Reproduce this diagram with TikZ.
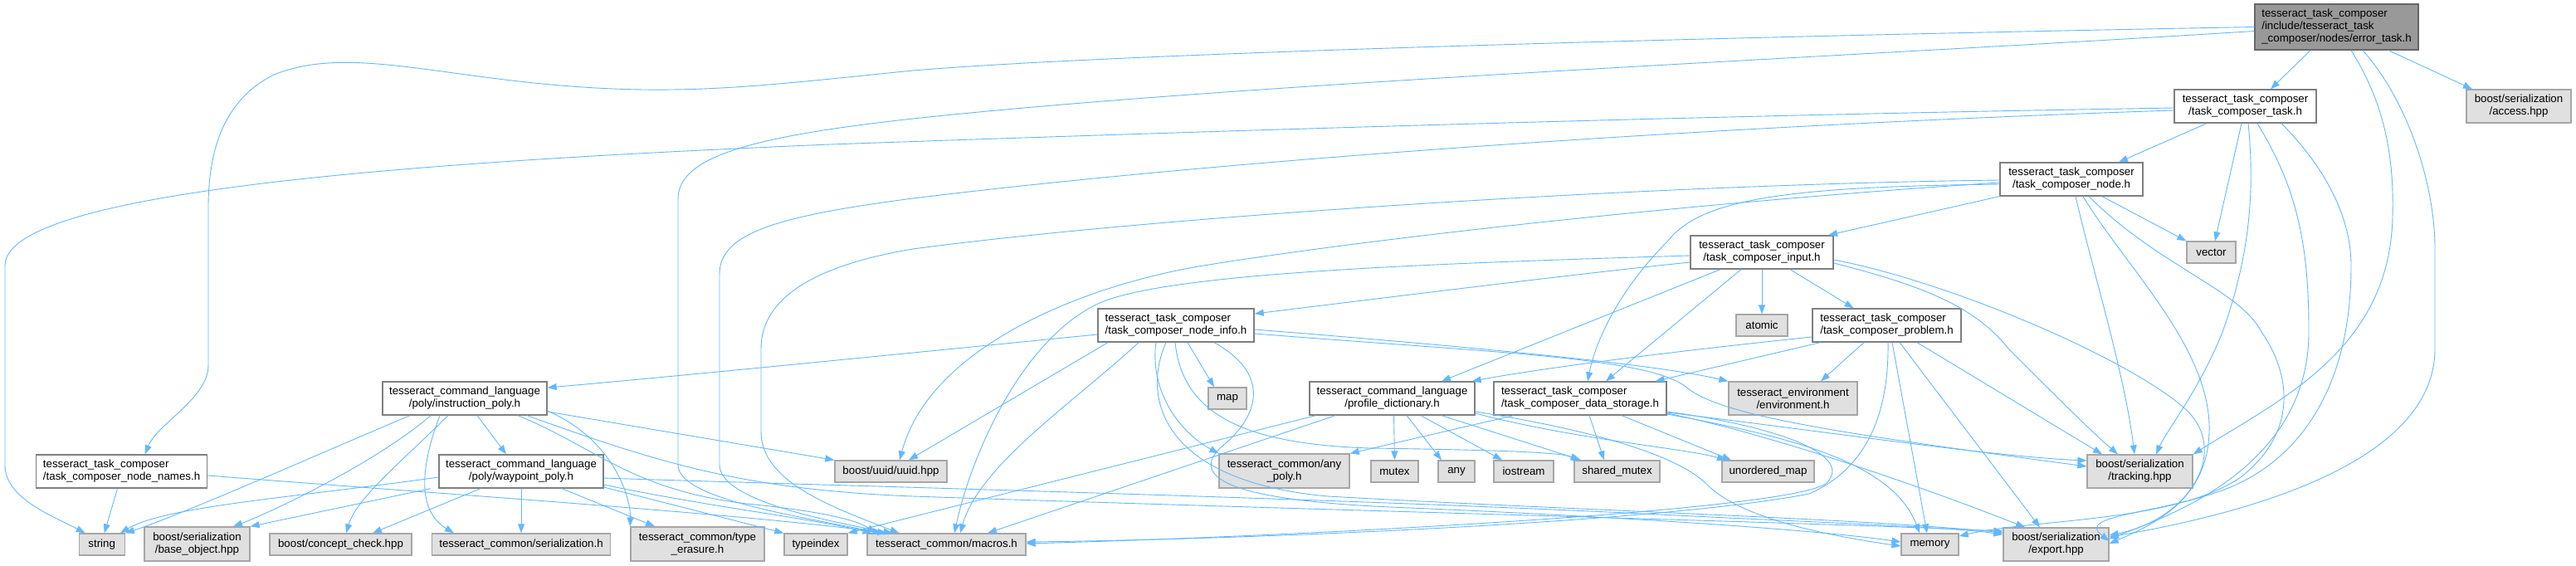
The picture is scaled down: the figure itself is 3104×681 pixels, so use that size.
\documentclass[tikz,border=0pt]{standalone}
\usepackage{fontspec}
\newfontfamily\dxfont{Liberation Sans}
\usetikzlibrary{arrows.meta}
\definecolor{edgeblue}{HTML}{63B8FF}
\definecolor{boxline}{HTML}{7F7F7F}
\definecolor{extline}{HTML}{A6A6A6}
\definecolor{extfill}{HTML}{E0E0E0}
\definecolor{errfill}{HTML}{999999}
\definecolor{errline}{HTML}{666666}

\begin{document}
\begin{tikzpicture}[x=1pt,y=-1pt,
    box/.style={draw=boxline,fill=white,line width=1.3pt,inner sep=0pt,
      minimum height=40pt,align=center,font={\dxfont\fontsize{13.3}{15}\selectfont}},
    ext/.style={box,draw=extline,fill=extfill},
    dep/.style={draw=edgeblue,line width=0.9pt,-{Triangle[length=11pt,width=8pt]}}]
\useasboundingbox (0,0) rectangle (3104,681);

% files of the project
\node[box,fill=errfill,draw=errline,align=left,minimum width=197pt,minimum height=55pt] (errtask) at (2815.5,32.5)
  {tesseract\_task\_composer\\/include/tesseract\_task\\\_composer/nodes/error\_task.h};
\node[box,minimum width=171pt] (task) at (2705.5,128) {tesseract\_task\_composer\\/task\_composer\_task.h};
\node[box,minimum width=172pt] (tcnode) at (2496,216) {tesseract\_task\_composer\\/task\_composer\_node.h};
\node[box,minimum width=172pt] (input) at (2123,304) {tesseract\_task\_composer\\/task\_composer\_input.h};
\node[box,align=left,minimum width=179pt] (problem) at (2273.5,392) {tesseract\_task\_composer\\/task\_composer\_problem.h};
\node[box,align=left,minimum width=188pt] (nodeinfo) at (1417,392) {tesseract\_task\_composer\\/task\_composer\_node\_info.h};
\node[box,minimum width=199pt] (profile) at (1677.5,480) {tesseract\_command\_language\\/profile\_dictionary.h};
\node[box,align=left,minimum width=208pt] (storage) at (1904,480) {tesseract\_task\_composer\\/task\_composer\_data\_storage.h};
\node[box,minimum width=198pt] (instr) at (560,480) {tesseract\_command\_language\\/poly/instruction\_poly.h};
\node[box,minimum width=198pt] (waypoint) at (628,568) {tesseract\_command\_language\\/poly/waypoint\_poly.h};
\node[box,align=left,minimum width=206pt] (nodenames) at (146.6,568) {tesseract\_task\_composer\\/task\_composer\_node\_names.h};

% outside headers
\node[ext,minimum width=126pt] (access) at (3035,128) {boost/serialization\\/access.hpp};
\node[ext,minimum width=59pt,minimum height=26pt] (vector) at (2664.5,304) {vector};
\node[ext,minimum width=62pt,minimum height=26pt] (atomic) at (2123,392) {atomic};
\node[ext,minimum width=46pt,minimum height=26pt] (map) at (1479,480) {map};
\node[ext,minimum width=155pt] (environment) at (2160.5,480) {tesseract\_environment\\/environment.h};
\node[ext,minimum width=135pt,minimum height=26pt] (uuid) at (1073.5,568) {boost/uuid/uuid.hpp};
\node[ext,minimum width=157pt,minimum height=41pt] (anypoly) at (1547.5,567.5) {tesseract\_common/any\\\_poly.h};
\node[ext,minimum width=57pt,minimum height=26pt] (mutex) at (1680.5,568) {mutex};
\node[ext,minimum width=44pt,minimum height=26pt] (any) at (1755,568) {any};
\node[ext,minimum width=72pt,minimum height=26pt] (iostream) at (1836,568) {iostream};
\node[ext,minimum width=103pt,minimum height=26pt] (sharedmutex) at (1948.5,568) {shared\_mutex};
\node[ext,minimum width=111pt,minimum height=26pt] (unorderedmap) at (2130.5,568) {unordered\_map};
\node[ext,minimum width=127pt] (tracking) at (2578.5,568) {boost/serialization\\/tracking.hpp};
\node[ext,minimum width=55pt,minimum height=26pt] (string) at (122.7,656) {string};
\node[ext,minimum width=127pt,minimum height=41pt] (baseobject) at (237.5,655.5) {boost/serialization\\/base\_object.hpp};
\node[ext,minimum width=171pt,minimum height=26pt] (conceptcheck) at (410.5,656) {boost/concept\_check.hpp};
\node[ext,minimum width=215pt,minimum height=26pt] (serialization) at (628,656) {tesseract\_common/serialization.h};
\node[ext,minimum width=161pt,minimum height=41pt] (typeerasure) at (840.5,655.5) {tesseract\_common/type\\\_erasure.h};
\node[ext,minimum width=76pt,minimum height=26pt] (typeindex) at (983,656) {typeindex};
\node[ext,minimum width=191pt,minimum height=26pt] (macros) at (1140.5,656) {tesseract\_common/macros.h};
\node[ext,minimum width=69pt,minimum height=26pt] (memory) at (2325.5,656) {memory};
\node[ext,minimum width=127pt] (export) at (2477.5,656) {boost/serialization\\/export.hpp};

% error_task.h
\draw[dep] ([xshift=-31.5pt]errtask.south) -- ([xshift=30.5pt]task.north);
\draw[dep] ([xshift=62.5pt]errtask.south) -- ([xshift=-56pt]access.north);
\draw[dep] (errtask.west) .. controls (2300,40) and (1400,60) .. (1100,85)
  .. controls (900,105) and (800,120) .. (600,95) .. controls (480,80) and (400,62) .. (330,90)
  .. controls (270,120) and (251,180) .. (251,250) -- (251,440)
  .. controls (251,480) and (190,510) .. ([xshift=28pt]nodenames.north);
\draw[dep] ([yshift=-5pt]errtask.west) .. controls (2200,70) and (1500,100) .. (1100,143)
  .. controls (900,165) and (817,190) .. (817,240) -- (817,560)
  .. controls (817,600) and (950,620) .. ([xshift=-78pt]macros.north);
\draw[dep] ([xshift=17.5pt]errtask.south) .. controls (2870,120) and (2885,180) .. (2883,260)
  .. controls (2880,420) and (2750,480) .. (tracking.north east);
\draw[dep] ([xshift=31.5pt]errtask.south) .. controls (2900,120) and (2934,220) .. (2934,300) -- (2934,420)
  .. controls (2934,560) and (2700,620) .. ([yshift=9pt]export.east);

% task_composer_task.h
\draw[dep] ([xshift=-46.5pt]task.south) -- ([xshift=57pt]tcnode.north);
\draw[dep] ([xshift=-4.5pt]task.south) -- ([xshift=4.5pt]vector.north);
\draw[dep] ([yshift=-2pt]task.west) .. controls (2000,140) and (1400,160) .. (1000,174)
  .. controls (500,195) and (6,230) .. (6,320) -- (6,560)
  .. controls (6,600) and (60,620) .. ([xshift=-20pt]string.north);
\draw[dep] ([yshift=-5pt]task.west) .. controls (2100,150) and (1500,190) .. (1100,239)
  .. controls (940,260) and (867,280) .. (867,330) -- (867,560)
  .. controls (867,600) and (980,625) .. ([xshift=-65pt]macros.north);
\draw[dep] ([xshift=3.5pt]task.south) .. controls (2716,220) and (2714,300) .. (2678,400)
  .. controls (2650,470) and (2610,520) .. ([xshift=19.5pt]tracking.north);
\draw[dep] ([xshift=14.5pt]task.south) .. controls (2770,230) and (2782,300) .. (2782,400)
  .. controls (2782,560) and (2620,620) .. ([yshift=7pt]export.east);
\draw[dep] ([xshift=43.5pt]task.south) .. controls (2800,200) and (2833,260) .. (2833,320)
  .. controls (2833,480) and (2760,560) .. (2680,590) .. controls (2600,620) and (2500,620) .. ([yshift=4pt]export.east);

% task_composer_node.h
\draw[dep] (tcnode.south west) -- ([xshift=80pt]input.north);
\draw[dep] ([yshift=-6pt]tcnode.west) .. controls (2150,225) and (2050,240) .. (2010,290)
  .. controls (1960,340) and (1925,400) .. ([xshift=9pt]storage.north);
\draw[dep] ([xshift=37pt]tcnode.south) -- (vector.north west);
\draw[dep] ([yshift=-4pt]tcnode.west) .. controls (2100,240) and (1700,280) .. (1450,320)
  .. controls (1300,345) and (1120,420) .. ([xshift=10.5pt]uuid.north);
\draw[dep] ([yshift=-1pt]tcnode.west) .. controls (2000,222) and (1400,260) .. (1100,300)
  .. controls (980,320) and (917,360) .. (917,420) -- (917,520)
  .. controls (917,580) and (1000,610) .. ([xshift=-57pt]macros.north);
\draw[dep] ([xshift=5pt]tcnode.south) .. controls (2520,320) and (2560,450) .. ([xshift=-6.5pt]tracking.north);
\draw[dep] ([xshift=14pt]tcnode.south) .. controls (2560,320) and (2665,420) .. (2662,520)
  .. controls (2660,600) and (2600,630) .. ([yshift=1pt]export.east);
\draw[dep] ([xshift=21pt]tcnode.south) .. controls (2600,320) and (2700,350) .. (2725,400)
  .. controls (2760,450) and (2770,520) .. (2700,575)
  .. controls (2620,630) and (2450,625) .. ([yshift=10pt]memory.east);

% task_composer_input.h
\draw[dep] ([yshift=-12pt]input.west) .. controls (1900,330) and (1700,355) .. ([yshift=14pt]nodeinfo.east);
\draw[dep] ([yshift=-4pt]input.west) .. controls (1700,318) and (1400,330) .. (1323,366)
  .. controls (1230,410) and (1170,550) .. ([xshift=9.5pt]macros.north);
\draw[dep] ([xshift=-50pt]input.south) -- ([xshift=59.5pt]profile.north);
\draw[dep] ([xshift=-25pt]input.south) -- ([xshift=31pt]storage.north);
\draw[dep] (input.south) -- (atomic.north);
\draw[dep] ([xshift=34pt]input.south) -- ([xshift=-40pt]problem.north);
\draw[dep] ([yshift=-13pt]input.east) .. controls (2320,345) and (2380,370) .. (2420,420)
  .. controls (2480,480) and (2520,520) .. ([xshift=-26.5pt]tracking.north);
\draw[dep] ([yshift=-9pt]input.east) .. controls (2350,340) and (2560,430) .. (2630,490)
  .. controls (2690,540) and (2640,625) .. ([yshift=11pt]export.east);

% task_composer_problem.h
\draw[dep] ([yshift=-14pt]problem.west) .. controls (2000,425) and (1850,445) .. ([xshift=-4pt]profile.north east);
\draw[dep] ([xshift=-80pt]problem.south) -- ([xshift=-14pt]storage.north east);
\draw[dep] ([xshift=-27.5pt]problem.south) -- ([xshift=33.5pt]environment.north);
\draw[dep] ([xshift=1.5pt]problem.south) .. controls (2276,480) and (2260,560) .. (2180,595)
  .. controls (2000,630) and (1500,650) .. ([yshift=3pt]macros.east);
\draw[dep] ([xshift=6.5pt]problem.south) -- ([xshift=-3.5pt]memory.north);
\draw[dep] ([xshift=15.5pt]problem.south) -- ([xshift=-19.5pt]export.north);
\draw[dep] ([xshift=36.5pt]problem.south) -- ([xshift=-45.5pt]tracking.north);

% task_composer_data_storage.h
\draw[dep] ([xshift=-80pt]storage.south) -- (anypoly.north east);
\draw[dep] ([xshift=11pt]storage.south) -- ([xshift=-15.5pt]sharedmutex.north);
\draw[dep] ([xshift=50pt]storage.south) -- ([xshift=-44.5pt]unorderedmap.north);
\draw[dep] ([yshift=-16pt]storage.east) .. controls (2150,515) and (2235,550) .. (2200,583)
  .. controls (2150,615) and (1600,645) .. ([yshift=1pt]macros.east);
\draw[dep] ([yshift=-17pt]storage.east) .. controls (2200,520) and (2400,550) .. ([yshift=13pt]tracking.west);
\draw[dep] ([yshift=-18pt]storage.east) .. controls (2120,520) and (2300,580) .. ([xshift=-37.5pt]export.north);
\draw[dep] ([yshift=-19pt]storage.east) .. controls (2150,525) and (2280,555) .. ([xshift=-12.5pt]memory.north);

% profile_dictionary.h
\draw[dep] ([xshift=-68.5pt]profile.south) -- ([xshift=49.5pt]macros.north);
\draw[dep] ([xshift=-92pt]profile.south) -- (typeindex.north east);
\draw[dep] ([xshift=2pt]profile.south) -- (mutex.north);
\draw[dep] ([xshift=17.5pt]profile.south) -- ([xshift=-18pt]any.north);
\draw[dep] ([xshift=34.5pt]profile.south) -- ([xshift=-26pt]iostream.north);
\draw[dep] ([xshift=59.5pt]profile.south) -- ([xshift=-43.5pt]sharedmutex.north);
\draw[dep] ([yshift=-18pt]profile.east) .. controls (1900,530) and (2030,540) .. ([xshift=-50.5pt]unorderedmap.north);
\draw[dep] ([yshift=-16pt]profile.east) .. controls (1900,515) and (2020,545) .. (2058,585)
  .. controls (2100,625) and (2200,645) .. ([yshift=-2pt]memory.west);

% task_composer_node_info.h
\draw[dep] ([yshift=-11pt]nodeinfo.west) .. controls (1100,425) and (800,455) .. ([yshift=13pt]instr.east);
\draw[dep] ([xshift=-82pt]nodeinfo.south) -- ([xshift=21.5pt]uuid.north);
\draw[dep] ([xshift=-45pt]nodeinfo.south) .. controls (1300,480) and (1180,560) .. ([xshift=16.5pt]macros.north);
\draw[dep] ([xshift=-24pt]nodeinfo.south) .. controls (1385,470) and (1420,520) .. (anypoly.north west);
\draw[dep] ([xshift=14pt]nodeinfo.south) -- ([xshift=-16pt]map.north);
\draw[dep] ([xshift=-1pt]nodeinfo.south) .. controls (1425,500) and (1500,535) .. (1650,540)
  .. controls (1800,542) and (1880,545) .. ([xshift=-45pt]sharedmutex.north);
\draw[dep] ([yshift=-5pt]nodeinfo.east) .. controls (1800,420) and (2000,440) .. (environment.north west);
\draw[dep] ([yshift=-10pt]nodeinfo.east) .. controls (1800,425) and (1980,430) .. (2030,465)
  .. controls (2070,500) and (2200,520) .. ([yshift=6pt]tracking.west);
\draw[dep] ([xshift=-12pt]nodeinfo.south) .. controls (1375,480) and (1400,580) .. (1600,598)
  .. controls (1900,615) and (2250,625) .. ([yshift=14pt]export.west);
\draw[dep] ([xshift=46pt]nodeinfo.south) .. controls (1530,450) and (1520,500) .. (1470,540)
  .. controls (1430,580) and (1500,605) .. (1700,612)
  .. controls (2000,625) and (2200,640) .. ([yshift=3pt]memory.west);

% instruction_poly.h
\draw[dep] ([xshift=15pt]instr.south) -- ([xshift=-18pt]waypoint.north);
\draw[dep] ([xshift=-66pt]instr.south) .. controls (400,540) and (220,620) .. (string.north east);
\draw[dep] ([xshift=-41pt]instr.south) .. controls (450,560) and (320,620) .. ([xshift=43.5pt]baseobject.north);
\draw[dep] ([xshift=-20pt]instr.south) .. controls (480,560) and (430,600) .. ([xshift=6.5pt]conceptcheck.north);
\draw[dep] ([xshift=-30pt]instr.south) .. controls (500,580) and (510,620) .. ([xshift=-81pt]serialization.north);
\draw[dep] ([yshift=-15pt]instr.east) .. controls (740,530) and (760,600) .. (typeerasure.north west);
\draw[dep] ([yshift=-16pt]instr.east) -- (uuid.north west);
\draw[dep] ([xshift=64pt]instr.south) .. controls (720,540) and (760,590) .. (900,607)
  .. controls (980,615) and (1030,625) .. ([xshift=-85pt]macros.north);
\draw[dep] ([xshift=75pt]instr.south) .. controls (800,560) and (900,590) .. (1100,598)
  .. controls (1600,615) and (2200,630) .. ([yshift=16pt]export.west);

% waypoint_poly.h
\draw[dep] ([yshift=-7pt]waypoint.west) .. controls (350,600) and (200,610) .. ([xshift=-6pt]string.north east);
\draw[dep] ([xshift=-109pt]waypoint.south) -- (baseobject.north east);
\draw[dep] ([xshift=-49pt]waypoint.south) -- ([xshift=38.5pt]conceptcheck.north);
\draw[dep] (waypoint.south) -- (serialization.north);
\draw[dep] ([xshift=49pt]waypoint.south) -- ([xshift=-51.5pt]typeerasure.north);
\draw[dep] ([yshift=-19pt]waypoint.east) -- (typeindex.north west);
\draw[dep] ([yshift=-16pt]waypoint.east) .. controls (850,610) and (980,625) .. ([xshift=-90pt]macros.north);
\draw[dep] ([yshift=-8pt]waypoint.east) .. controls (1000,585) and (1600,600) .. (2000,620)
  .. controls (2200,630) and (2350,635) .. ([yshift=12pt]export.west);

% task_composer_node_names.h
\draw[dep] ([xshift=-5pt]nodenames.south) -- ([xshift=3pt]string.north);
\draw[dep] ([yshift=-5pt]nodenames.east) .. controls (600,600) and (900,620) .. ([xshift=-72pt]macros.north);
\end{tikzpicture}
\end{document}
